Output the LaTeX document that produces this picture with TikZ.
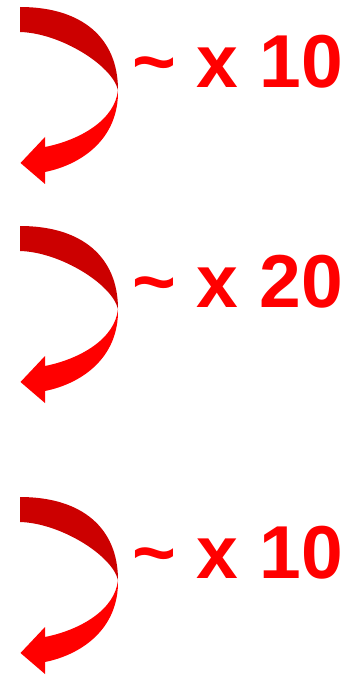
\documentclass[tikz,border=0pt]{standalone}
\usepackage{fontspec}
\setmainfont{Liberation Sans}
\definecolor{foldred}{HTML}{CC0000}
\definecolor{loopred}{HTML}{FF0000}
\tikzset{
  backface/.style={fill=foldred,draw=none},
  frontface/.style={fill=loopred,draw=none},
  factor/.style={anchor=base west,inner sep=0pt,text=loopred,font=\fontsize{75}{90}\selectfont\bfseries},
}
\begin{document}
\begin{tikzpicture}[x=1pt,y=1pt]
  \useasboundingbox (0,0) rectangle (360,-676);
  \foreach \yy/\nn/\lab in {0/1/10,219/2/20,490/3/10}{
    \begin{scope}[shift={(0,-\yy)}]
      % back half of the loop
      \fill[backface] (20,-7) .. controls (82,-7) and (118,-38) .. (118,-90)
        .. controls (112,-65) and (60,-33) .. (20,-32) -- cycle;
      % front half with head
      \fill[frontface] (118,-90) .. controls (119,-140) and (80,-165) .. (45,-172)
        -- (45,-184) -- (20.5,-163) -- (45,-137) -- (45,-147)
        .. controls (80,-140) and (115,-120) .. (118,-90) -- cycle;
      \node[factor] (fac\nn) at (132,-88) {\textasciitilde{} x \lab};
    \end{scope}
  }
\end{tikzpicture}
\end{document}
